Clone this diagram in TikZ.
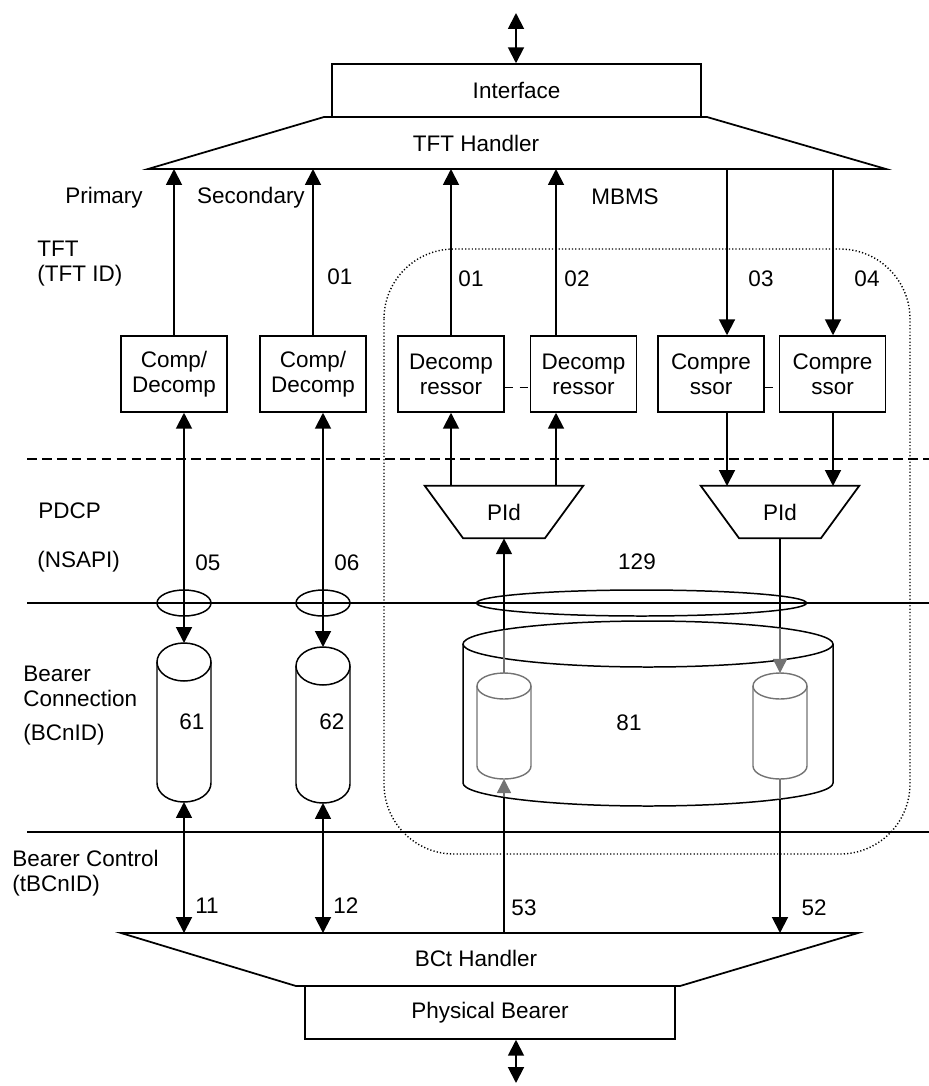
\documentclass[tikz,border=0pt]{standalone}
\usepackage{fontspec}
\setmainfont{Liberation Sans}
\usetikzlibrary{arrows.meta,calc}
\tikzset{
  blk/.style={draw, line width=0.85pt, minimum width=2.12cm, minimum height=1.52cm,
    align=center, inner sep=1pt},
  wide/.style={draw, line width=0.85pt, minimum width=7.38cm, minimum height=1.06cm},
  pidbox/.style={minimum width=3.16cm, minimum height=1.04cm, inner sep=0pt},
  handler/.style={line width=1pt, line join=miter},
  arr/.style={-{Triangle[length=9pt,width=9pt]}, line width=1.1pt},
  darr/.style={{Triangle[length=9pt,width=9pt]}-{Triangle[length=9pt,width=9pt]}, line width=1.1pt},
  plain/.style={line width=1.1pt},
  ghost/.style={black!55, line width=0.8pt},
  garr/.style={ghost, -{Triangle[length=8pt,width=8pt]}},
  layer/.style={line width=0.85pt},
  sepline/.style={line width=0.85pt, dash pattern=on 5.5pt off 3pt},
  boxlink/.style={line width=0.85pt, dash pattern=on 4.5pt off 4pt},
  zone/.style={line width=0.8pt, dash pattern=on 0.7pt off 1.2pt, rounded corners=1.4cm},
  tag/.style={inner sep=0pt},
  side/.style={anchor=west, align=left, inner sep=0pt},
}
% cylinder: [opts]{name}{cx}{y top centre}{y bottom centre}{rx}{ry}
\newcommand{\bearercyl}[7][]{%
  \draw[#1] (#3-#6,#4) -- (#3-#6,#5) arc[start angle=180, end angle=360, x radius=#6, y radius=#7] -- (#3+#6,#4);
  \draw[#1] (#3,#4) ellipse[x radius=#6, y radius=#7];
  \coordinate (#2-t) at (#3,#4+#7);
  \coordinate (#2-b) at (#3,#5-#7);
}

\begin{document}
\begin{tikzpicture}[x=0.02cm, y=0.02cm, every node/.style={font=\fontsize{12.8}{14.3}\selectfont}]
\useasboundingbox (0,0) rectangle (929,-1086);

% MBMS zone
\draw[zone] (384,-249) rectangle (910,-854);

% handlers
\node[wide] (iface) at (516.5,-90.5) {Interface};
\draw[handler] (148,-169) -- (324,-117) -- (707,-117) -- (886,-169) -- cycle;
\node[tag] (tfth) at (476,-143) {TFT Handler};
\coordinate (tftb) at (517,-169);

\draw[handler] (121,-933) -- (858,-933) -- (680,-986) -- (296,-986) -- cycle;
\node[tag] (bcth) at (476,-958) {BCt Handler};
\node[wide, minimum width=7.4cm] (phys) at (490,-1012.5) {Physical Bearer};
\coordinate (bct) at (489,-933);

\coordinate (topio) at (516,-13);
\coordinate (botio) at (516,-1083);
\draw[darr] (topio) -- (topio |- iface.north);
\draw[darr] (phys.south -| botio) -- (botio);

% layer lines
\draw[sepline] (27,-459) -- (929,-459);
\draw[layer] (27,-603) -- (929,-603);
\draw[layer] (27,-832) -- (929,-832);

% compressor blocks
\node[blk] (cd1) at (174,-374) {Comp/\\Decomp};
\node[blk] (cd2) at (313,-374) {Comp/\\Decomp};
\node[blk] (dc1) at (451,-374) {Decomp\\ressor};
\node[blk] (dc2) at (583.5,-374) {Decomp\\ressor};
\node[blk] (cp1) at (711,-374) {Compre\\ssor};
\node[blk] (cp2) at (832.5,-374) {Compre\\ssor};
\draw[boxlink] (dc1.-14) -- (dc2.194);
\draw[boxlink] (cp1.-14) -- (cp2.194);

% PId
\node[pidbox] (pid1) at (504,-512) {PId};
\node[pidbox] (pid2) at (780,-512) {PId};
\foreach \p in {pid1,pid2}
  \draw[handler] (\p.north west) -- (\p.north east) -- ($(\p.south east)+(-38.5,0)$)
    -- ($(\p.south west)+(38.5,0)$) -- cycle;
\coordinate (la) at (451,-486);
\coordinate (lb) at (556,-486);
\coordinate (lc) at (727,-486);
\coordinate (ld) at (833,-486);

% NSAPI rings
\draw[layer] (184,-603) ellipse[x radius=27, y radius=13];
\draw[layer] (323,-603) ellipse[x radius=27, y radius=13];
\draw[layer] (641.5,-603) ellipse[x radius=165, y radius=13];

% bearers
\bearercyl[layer]{c61}{184}{-662}{-783}{27}{19}
\bearercyl[layer]{c62}{323}{-666}{-784}{27}{19}
\bearercyl[layer]{c81}{648}{-644}{-783}{185}{23}
\bearercyl[ghost]{sA}{504}{-686}{-766}{27}{13}
\bearercyl[ghost]{sB}{780}{-686}{-766}{27}{13}
\coordinate (n1) at (504,-630);
\coordinate (n2) at (504,-797);
\coordinate (n3) at (780,-628);
\coordinate (n4) at (780,-799);

% TFT level
\draw[arr] (cd1.north) -- (cd1.north |- tftb);
\draw[arr] (cd2.north) -- (cd2.north |- tftb);
\draw[arr] (la |- dc1.north) -- (la |- tftb);
\draw[arr] (lb |- dc2.north) -- (lb |- tftb);
\draw[arr] (lc |- tftb) -- (lc |- cp1.north);
\draw[arr] (ld |- tftb) -- (ld |- cp2.north);

% PDCP level
\draw[darr] (cd1.south -| c61-t) -- (c61-t);
\draw[darr] (cd2.south -| c62-t) -- (c62-t);
\draw[arr] (la) -- (la |- dc1.south);
\draw[arr] (lb) -- (lb |- dc2.south);
\draw[arr] (lc |- cp1.south) -- (lc);
\draw[arr] (ld |- cp2.south) -- (ld);

% bearer level
\draw[arr] (n1) -- (n1 |- pid1.south);
\draw[plain] (pid2.south) -- (n3);
\draw[ghost] (n1) -- (sA-t);
\draw[garr] (n3) -- (sB-t);
\draw[garr] (n2) -- (sA-b);
\draw[ghost] (sB-b) -- (n4);
\draw[darr] (c61-b) -- (c61-b |- bct);
\draw[darr] (c62-b) -- (c62-b |- bct);
\draw[plain] (n2 |- bct) -- (n2);
\draw[arr] (n4) -- (n4 |- bct);

% labels
\node[tag] (prim) at (104,-198) {Primary};
\node[tag] (sec) at (251,-198) {Secondary};
\node[tag] (mbms) at (625,-197) {MBMS};
\foreach \t/\x/\y [count=\i] in {01/340/277, 01/471/279, 02/577/279, 03/761/279, 04/867/279,
    05/208/563, 06/347/563, 129/637/562, 61/192/722, 62/332/722, 81/629/723,
    11/207/906, 12/346/906, 53/524/908, 52/814/908}
  \node[tag] (num\i) at (\x,-\y) {\t};

\node[side] (ltft) at (37,-264) {TFT\\(TFT ID)};
\node[side] (lpdcp) at (38,-511) {PDCP};
\node[side] (lnsapi) at (37,-562) {(NSAPI)};
\node[side] (lbc) at (23,-686) {Bearer\\Connection};
\node[side] (lbcn) at (23,-735) {(BCnID)};
\node[side] (lctl) at (12,-873) {Bearer Control\\(tBCnID)};
\end{tikzpicture}
\end{document}
